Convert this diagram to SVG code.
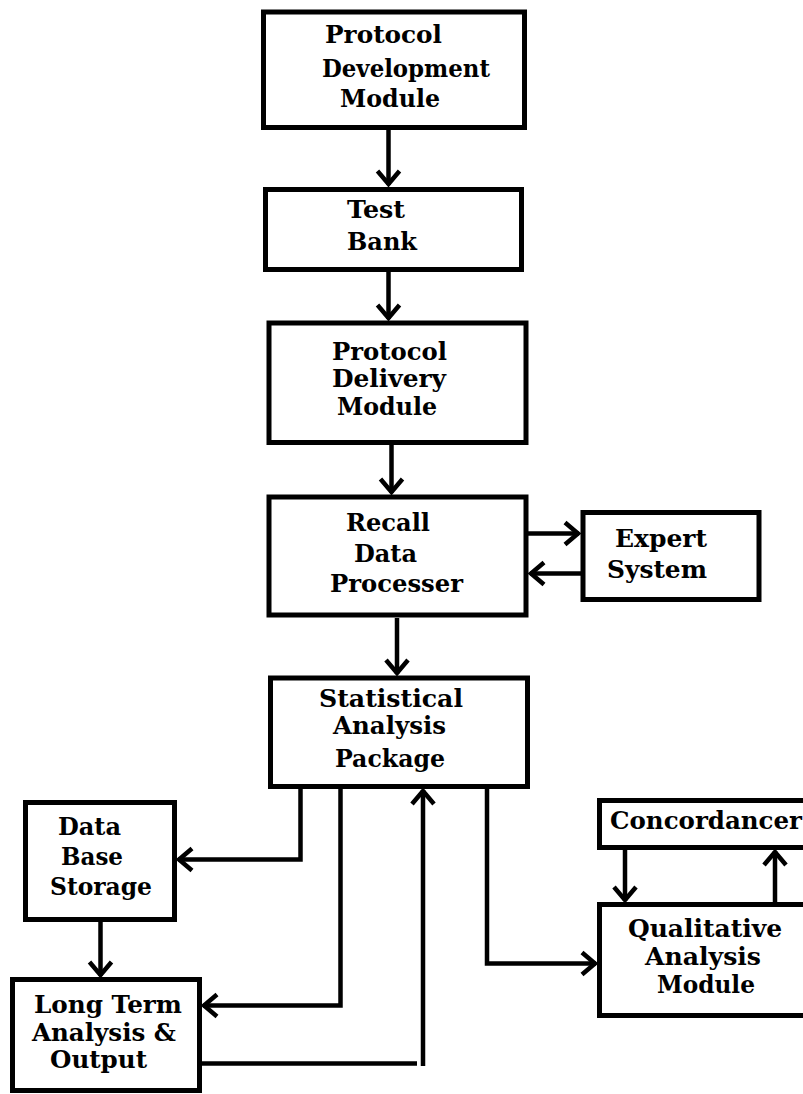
<svg xmlns="http://www.w3.org/2000/svg" width="803" height="1094" viewBox="0 0 803 1094">
<style>
.box{fill:#fff;stroke:#000;stroke-width:5}
.lbl{font-family:"DejaVu Serif","Liberation Serif",serif;font-weight:bold;font-size:24px;fill:#000;text-anchor:middle}
.c{fill:none;stroke:#000;stroke-width:4.5;stroke-linejoin:miter}
</style>
<defs>
<marker id="ah" markerUnits="userSpaceOnUse" markerWidth="30" markerHeight="30" refX="0" refY="0" viewBox="-20 -15 30 30" orient="auto" overflow="visible">
<path d="M-14,-11 L-1,0 L-14,11" fill="none" stroke="#000" stroke-width="4.5"/>
</marker>
</defs>
<rect width="803" height="1094" fill="#fff"/>
<g id="connectors">
<path class="c" d="M388.5,130 V185" marker-end="url(#ah)"/>
<path class="c" d="M388.5,272 V319" marker-end="url(#ah)"/>
<path class="c" d="M391.5,445 V493" marker-end="url(#ah)"/>
<path class="c" d="M397,618 V674" marker-end="url(#ah)"/>
<path class="c" d="M528,533.5 H579" marker-end="url(#ah)"/>
<path class="c" d="M581,573.5 H530" marker-end="url(#ah)"/>
<path class="c" d="M300.5,789 V859.5 H178" marker-end="url(#ah)"/>
<path class="c" d="M100.5,922 V976" marker-end="url(#ah)"/>
<path class="c" d="M340.5,789 V1005.5 H203" marker-end="url(#ah)"/>
<path class="c" d="M202,1063.5 H417"/>
<path class="c" d="M423,1066 V790" marker-end="url(#ah)"/>
<path class="c" d="M487,789 V963.5 H596" marker-end="url(#ah)"/>
<path class="c" d="M625,850 V901" marker-end="url(#ah)"/>
<path class="c" d="M775,902 V851" marker-end="url(#ah)"/>
</g>
<g id="protocol-development">
<rect class="box" x="263.5" y="12" width="261" height="115.5"/>
<text class="lbl" x="383.5" y="43" textLength="117" lengthAdjust="spacingAndGlyphs">Protocol</text>
<text class="lbl" x="406" y="77" textLength="168" lengthAdjust="spacingAndGlyphs">Development</text>
<text class="lbl" x="390" y="107" textLength="100" lengthAdjust="spacingAndGlyphs">Module</text>
</g>
<g id="test-bank">
<rect class="box" x="265.5" y="189.5" width="256" height="80"/>
<text class="lbl" x="376" y="218" textLength="58" lengthAdjust="spacingAndGlyphs">Test</text>
<text class="lbl" x="382" y="250" textLength="70" lengthAdjust="spacingAndGlyphs">Bank</text>
</g>
<g id="protocol-delivery">
<rect class="box" x="269" y="323" width="257" height="119.5"/>
<text class="lbl" x="389.5" y="360" textLength="115" lengthAdjust="spacingAndGlyphs">Protocol</text>
<text class="lbl" x="389" y="387" textLength="114" lengthAdjust="spacingAndGlyphs">Delivery</text>
<text class="lbl" x="387" y="415" textLength="100" lengthAdjust="spacingAndGlyphs">Module</text>
</g>
<g id="recall-data-processer">
<rect class="box" x="269" y="497" width="257" height="118"/>
<text class="lbl" x="388" y="531" textLength="84" lengthAdjust="spacingAndGlyphs">Recall</text>
<text class="lbl" x="385.5" y="562" textLength="63" lengthAdjust="spacingAndGlyphs">Data</text>
<text class="lbl" x="396.5" y="592" textLength="133" lengthAdjust="spacingAndGlyphs">Processer</text>
</g>
<g id="expert-system">
<rect class="box" x="583" y="512.5" width="176" height="87"/>
<text class="lbl" x="661" y="547" textLength="92" lengthAdjust="spacingAndGlyphs">Expert</text>
<text class="lbl" x="657" y="578" textLength="100" lengthAdjust="spacingAndGlyphs">System</text>
</g>
<g id="statistical-analysis">
<rect class="box" x="270.5" y="678" width="257" height="108.5"/>
<text class="lbl" x="391" y="707" textLength="144" lengthAdjust="spacingAndGlyphs">Statistical</text>
<text class="lbl" x="389.5" y="734" textLength="113" lengthAdjust="spacingAndGlyphs">Analysis</text>
<text class="lbl" x="390" y="767" textLength="110" lengthAdjust="spacingAndGlyphs">Package</text>
</g>
<g id="data-base-storage">
<rect class="box" x="25.5" y="802.5" width="149" height="117"/>
<text class="lbl" x="89.5" y="835" textLength="63" lengthAdjust="spacingAndGlyphs">Data</text>
<text class="lbl" x="92" y="865" textLength="62" lengthAdjust="spacingAndGlyphs">Base</text>
<text class="lbl" x="101" y="895" textLength="102" lengthAdjust="spacingAndGlyphs">Storage</text>
</g>
<g id="long-term-analysis">
<rect class="box" x="12.5" y="979.5" width="187" height="111"/>
<text class="lbl" x="108" y="1013" textLength="148" lengthAdjust="spacingAndGlyphs">Long Term</text>
<text class="lbl" x="104" y="1041" textLength="144" lengthAdjust="spacingAndGlyphs">Analysis &amp;</text>
<text class="lbl" x="98.5" y="1068" textLength="97" lengthAdjust="spacingAndGlyphs">Output</text>
</g>
<g id="concordancer">
<rect class="box" x="599.5" y="800.5" width="215" height="47"/>
<text class="lbl" x="706" y="829" textLength="192" lengthAdjust="spacingAndGlyphs">Concordancer</text>
</g>
<g id="qualitative-analysis">
<rect class="box" x="599.5" y="904.5" width="215" height="111"/>
<text class="lbl" x="705" y="937" textLength="154" lengthAdjust="spacingAndGlyphs">Qualitative</text>
<text class="lbl" x="703" y="965" textLength="116" lengthAdjust="spacingAndGlyphs">Analysis</text>
<text class="lbl" x="706" y="993" textLength="98" lengthAdjust="spacingAndGlyphs">Module</text>
</g>
</svg>
